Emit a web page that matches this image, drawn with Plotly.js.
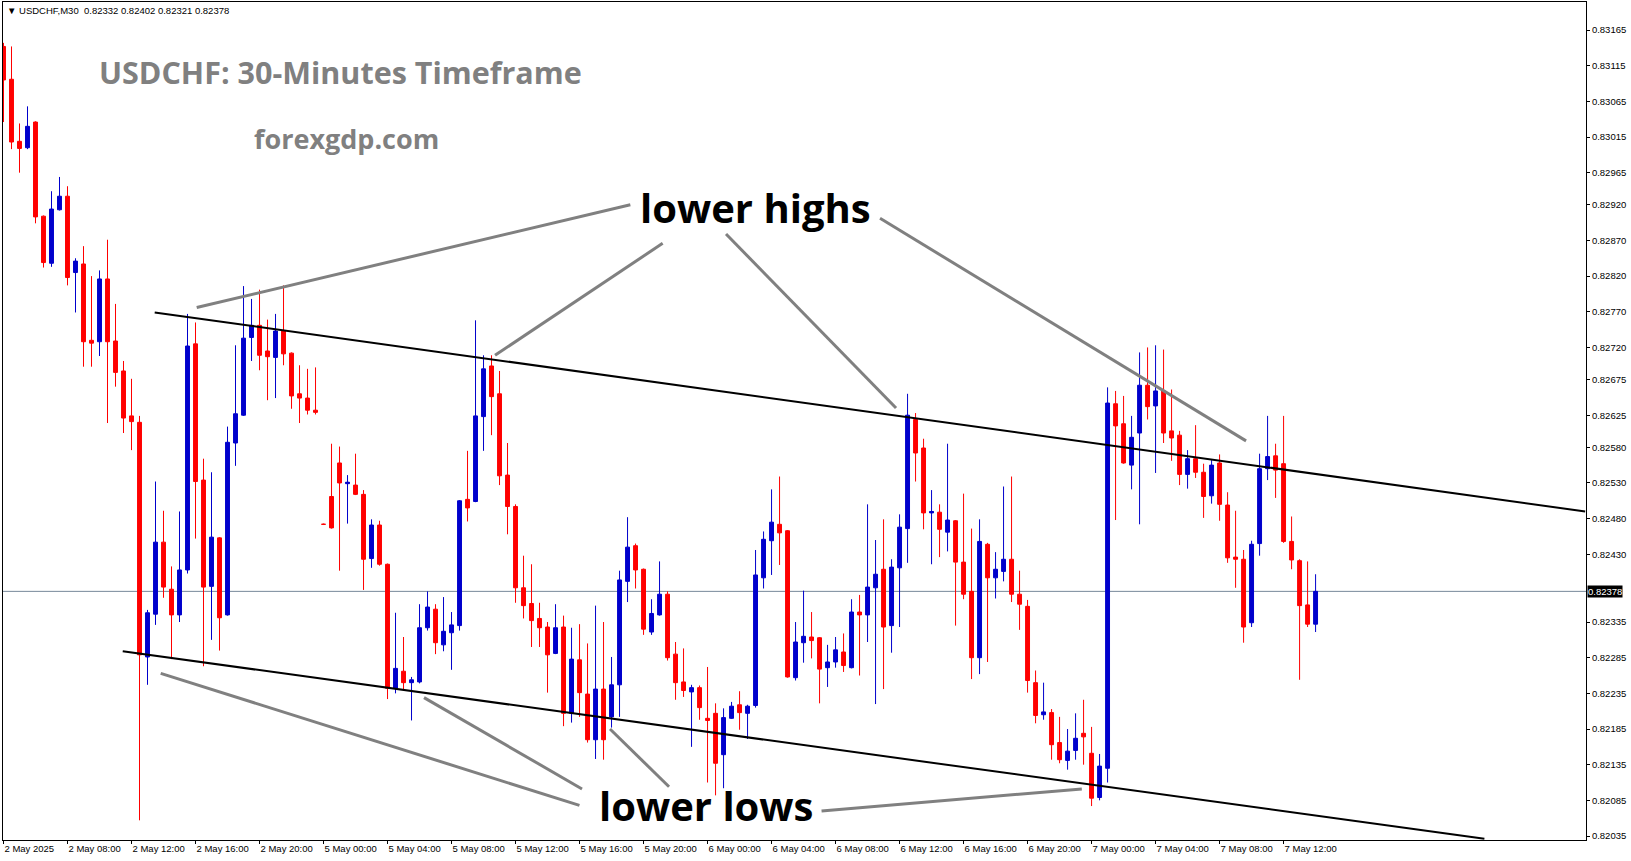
<!DOCTYPE html>
<html>
<head>
<meta charset="utf-8">
<script src="https://cdn.plot.ly/plotly-3.0.1.min.js"></script>
<style>html,body{margin:0;padding:0;background:#fff;}#chart{width:1631px;height:861px;}</style>
</head>
<body>
<div id="chart"></div>
<script>
// ---- data (USDCHF M30) ----
const symbol = "USDCHF,M30";
const titleText = "USDCHF: 30-Minutes Timeframe";
const siteText = "forexgdp.com";

const timeLabels = ["2 May 2025","2 May 08:00","2 May 12:00","2 May 16:00","2 May 20:00","5 May 00:00","5 May 04:00","5 May 08:00","5 May 12:00","5 May 16:00","5 May 20:00","6 May 00:00","6 May 04:00","6 May 08:00","6 May 12:00","6 May 16:00","6 May 20:00","7 May 00:00","7 May 04:00","7 May 08:00","7 May 12:00"];
const barsPerLabel = 8;

const priceLabels = ["0.83165","0.83115","0.83065","0.83015","0.82965","0.82920","0.82870","0.82820","0.82770","0.82720","0.82675","0.82625","0.82580","0.82530","0.82480","0.82430","0.82335","0.82285","0.82235","0.82185","0.82135","0.82085","0.82035"];

const open = [0.83142,0.83096,0.83009,0.83000,0.83036,0.82904,0.82838,0.82913,0.82932,0.82825,0.82837,0.82730,0.82728,0.82816,0.82729,0.82687,0.82624,0.82615,0.82286,0.82346,
0.82447,0.82381,0.82345,0.82408,0.82725,0.82534,0.82385,0.82453,0.82345,0.82586,0.82625,0.82734,0.82751,0.82715,0.82706,0.82743,0.82712,0.82655,0.82649,0.82632,
0.82472,0.82511,0.82558,0.82529,0.82527,0.82514,0.82424,0.82471,0.82416,0.82242,0.82266,0.82250,0.82251,0.82327,0.82353,0.82303,0.82320,0.82330,0.82507,0.82504,
0.82623,0.82694,0.82655,0.82541,0.82497,0.82383,0.82361,0.82340,0.82328,0.82291,0.82328,0.82207,0.82282,0.82234,0.82170,0.82241,0.82202,0.82247,0.82392,0.82442,
0.82409,0.82321,0.82345,0.82374,0.82290,0.82251,0.82237,0.82243,0.82200,0.82207,0.82149,0.82200,0.82219,0.82207,0.82218,0.82397,0.82449,0.82472,0.82463,0.82257,
0.82306,0.82314,0.82313,0.82271,0.82279,0.82293,0.82271,0.82349,0.82345,0.82383,0.82409,0.82330,0.82411,0.82466,0.82619,0.82579,0.82488,0.82489,0.82461,0.82477,
0.82419,0.82378,0.82285,0.82444,0.82397,0.82406,0.82423,0.82374,0.82357,0.82250,0.82205,0.82208,0.82166,0.82141,0.82155,0.82179,0.82151,0.82089,0.82130,0.82641,
0.82613,0.82555,0.82600,0.82667,0.82638,0.82659,0.82603,0.82597,0.82542,0.82564,0.82545,0.82512,0.82558,0.82499,0.82426,0.82423,0.82334,0.82445,0.82550,0.82568,
0.82557,0.82448,0.82421,0.82359,0.82332];
const high = [0.83147,0.83142,0.83034,0.83058,0.83037,0.82905,0.82939,0.82959,0.82946,0.82845,0.82862,0.82820,0.82828,0.82871,0.82781,0.82701,0.82676,0.82624,0.82352,0.82532,
0.82491,0.82413,0.82490,0.82767,0.82755,0.82564,0.82545,0.82454,0.82609,0.82723,0.82806,0.82788,0.82801,0.82759,0.82767,0.82807,0.82713,0.82695,0.82690,0.82692,
0.82473,0.82585,0.82581,0.82541,0.82571,0.82520,0.82479,0.82477,0.82417,0.82348,0.82314,0.82258,0.82360,0.82378,0.82360,0.82370,0.82349,0.82506,0.82575,0.82758,
0.82709,0.82709,0.82687,0.82586,0.82500,0.82428,0.82416,0.82362,0.82335,0.82360,0.82344,0.82327,0.82332,0.82305,0.82358,0.82335,0.82286,0.82407,0.82482,0.82445,
0.82410,0.82367,0.82420,0.82378,0.82307,0.82298,0.82247,0.82246,0.82272,0.82221,0.82214,0.82223,0.82238,0.82219,0.82436,0.82462,0.82521,0.82539,0.82464,0.82335,
0.82379,0.82349,0.82314,0.82303,0.82314,0.82319,0.82367,0.82373,0.82500,0.82450,0.82479,0.82423,0.82486,0.82655,0.82628,0.82592,0.82520,0.82500,0.82585,0.82478,
0.82515,0.82466,0.82479,0.82446,0.82433,0.82525,0.82539,0.82407,0.82366,0.82267,0.82250,0.82213,0.82202,0.82185,0.82207,0.82226,0.82188,0.82150,0.82664,0.82659,
0.82652,0.82624,0.82713,0.82720,0.82723,0.82717,0.82661,0.82603,0.82576,0.82611,0.82557,0.82562,0.82570,0.82517,0.82491,0.82436,0.82449,0.82571,0.82624,0.82585,
0.82624,0.82483,0.82423,0.82420,0.82402];
const low = [0.83036,0.82998,0.82965,0.82998,0.82894,0.82832,0.82833,0.82912,0.82807,0.82769,0.82693,0.82693,0.82708,0.82614,0.82665,0.82600,0.82576,0.82057,0.82247,0.82331,
0.82369,0.82283,0.82335,0.82403,0.82452,0.82273,0.82310,0.82295,0.82344,0.82554,0.82624,0.82701,0.82688,0.82646,0.82649,0.82695,0.82634,0.82614,0.82626,0.82626,
0.82471,0.82466,0.82407,0.82473,0.82513,0.82380,0.82411,0.82414,0.82227,0.82235,0.82240,0.82197,0.82249,0.82323,0.82290,0.82294,0.82268,0.82323,0.82476,0.82503,
0.82575,0.82597,0.82527,0.82458,0.82362,0.82340,0.82300,0.82300,0.82236,0.82290,0.82189,0.82194,0.82202,0.82166,0.82143,0.82142,0.82187,0.82202,0.82363,0.82382,
0.82317,0.82317,0.82344,0.82281,0.82226,0.82230,0.82160,0.82198,0.82110,0.82092,0.82102,0.82199,0.82184,0.82171,0.82215,0.82382,0.82401,0.82415,0.82257,0.82253,
0.82278,0.82284,0.82221,0.82244,0.82271,0.82265,0.82270,0.82260,0.82307,0.82220,0.82241,0.82292,0.82328,0.82418,0.82532,0.82465,0.82416,0.82426,0.82434,0.82330,
0.82367,0.82255,0.82262,0.82279,0.82368,0.82392,0.82363,0.82324,0.82236,0.82193,0.82198,0.82142,0.82137,0.82128,0.82142,0.82135,0.82077,0.82085,0.82110,0.82478,
0.82557,0.82521,0.82472,0.82619,0.82544,0.82586,0.82561,0.82527,0.82522,0.82537,0.82481,0.82501,0.82477,0.82418,0.82383,0.82306,0.82328,0.82428,0.82534,0.82509,
0.82446,0.82409,0.82254,0.82328,0.82321];
const close = [0.83095,0.83008,0.82999,0.83030,0.82903,0.82839,0.82914,0.82932,0.82818,0.82841,0.82728,0.82726,0.82816,0.82728,0.82685,0.82621,0.82616,0.82289,0.82348,0.82447,
0.82384,0.82345,0.82408,0.82722,0.82532,0.82384,0.82454,0.82341,0.82587,0.82627,0.82733,0.82751,0.82709,0.82707,0.82743,0.82711,0.82652,0.82649,0.82632,0.82629,
0.82472,0.82467,0.82530,0.82531,0.82514,0.82423,0.82471,0.82416,0.82242,0.82270,0.82250,0.82254,0.82327,0.82356,0.82306,0.82322,0.82331,0.82505,0.82495,0.82624,
0.82690,0.82651,0.82540,0.82497,0.82383,0.82358,0.82337,0.82327,0.82289,0.82327,0.82207,0.82283,0.82236,0.82170,0.82241,0.82170,0.82247,0.82394,0.82440,0.82408,
0.82325,0.82347,0.82374,0.82285,0.82250,0.82239,0.82243,0.82215,0.82197,0.82137,0.82201,0.82217,0.82208,0.82217,0.82401,0.82451,0.82475,0.82460,0.82258,0.82307,
0.82315,0.82309,0.82269,0.82279,0.82296,0.82274,0.82349,0.82345,0.82384,0.82402,0.82328,0.82412,0.82468,0.82625,0.82572,0.82488,0.82490,0.82465,0.82478,0.82419,
0.82374,0.82285,0.82448,0.82397,0.82409,0.82423,0.82374,0.82360,0.82253,0.82204,0.82209,0.82163,0.82142,0.82154,0.82172,0.82174,0.82088,0.82133,0.82642,0.82610,
0.82558,0.82594,0.82667,0.82637,0.82659,0.82600,0.82593,0.82542,0.82564,0.82545,0.82511,0.82555,0.82500,0.82425,0.82423,0.82328,0.82444,0.82550,0.82567,0.82548,
0.82448,0.82422,0.82358,0.82332,0.82378];

// channel lines drawn on the chart: [bar, price] pairs
const upperChannel = [[18.9, 0.82769], [197.7, 0.82490]];
const lowerChannel = [[14.9, 0.82294], [185.1, 0.82031]];
// grey pointer lines (lower highs / lower lows)
const pointerLines = [
  [[24.15, 0.82776], [78.35, 0.82920]],
  [[61.44, 0.82709], [82.39, 0.82866]],
  [[90.31, 0.82879], [111.56, 0.82635]],
  [[109.56, 0.82901], [155.31, 0.82589]],
  [[19.65, 0.82263], [71.99, 0.82078]],
  [[52.56, 0.82229], [72.31, 0.82101]],
  [[75.81, 0.82185], [83.19, 0.82104]],
  [[102.25, 0.82070], [134.78, 0.82101]]
];

// ---- build ----
const n = close.length;
const x = Array.from({length: n}, (_, i) => i);
const last = n - 1;
const bid = close[last];

const trace = {
  type: 'candlestick', x: x, open: open, high: high, low: low, close: close,
  increasing: {line: {color: '#0000cc', width: 1}, fillcolor: '#0000cc'},
  decreasing: {line: {color: '#ff0000', width: 1}, fillcolor: '#ff0000'},
  whiskerwidth: 0, hoverinfo: 'skip', showlegend: false
};

const shapes = [];
shapes.push({type: 'line', xref: 'paper', x0: 0, x1: 1, yref: 'y', y0: bid, y1: bid, line: {color: '#778899', width: 1}, layer: 'below'});
[upperChannel, lowerChannel].forEach(l => shapes.push({type: 'line', xref: 'x', yref: 'y', x0: l[0][0], y0: l[0][1], x1: l[1][0], y1: l[1][1], line: {color: '#000000', width: 2}}));
pointerLines.forEach(l => shapes.push({type: 'line', xref: 'x', yref: 'y', x0: l[0][0], y0: l[0][1], x1: l[1][0], y1: l[1][1], line: {color: '#808080', width: 3}}));

const f5 = v => v.toFixed(5);
const annotations = [
  {xref: 'paper', yref: 'paper', x: 0.0015, y: 0.9893, xanchor: 'left', yanchor: 'middle', showarrow: false,
   text: '\u25BC ' + symbol + '  ' + f5(open[last]) + ' ' + f5(high[last]) + ' ' + f5(low[last]) + ' ' + f5(close[last]),
   font: {family: 'Liberation Sans', size: 9.5, color: '#000'}},
  {xref: 'paper', yref: 'paper', x: 0.2135, y: 0.9165, xanchor: 'center', yanchor: 'middle', showarrow: false,
   text: '<b>' + titleText + '</b>', font: {family: 'Open Sans', size: 30.5, color: '#808080'}},
  {xref: 'paper', yref: 'paper', x: 0.2172, y: 0.8377, xanchor: 'center', yanchor: 'middle', showarrow: false,
   text: '<b>' + siteText + '</b>', font: {family: 'Open Sans', size: 27, color: '#808080'}},
  {xref: 'paper', yref: 'paper', x: 0.4754, y: 0.7542, xanchor: 'center', yanchor: 'middle', showarrow: false,
   text: '<b>lower highs</b>', font: {family: 'Open Sans', size: 40, color: '#000'}},
  {xref: 'paper', yref: 'paper', x: 0.4444, y: 0.0406, xanchor: 'center', yanchor: 'middle', showarrow: false,
   text: '<b>lower lows</b>', font: {family: 'Open Sans', size: 40, color: '#000'}},
  {xref: 'paper', yref: 'y', x: 1, y: bid, xanchor: 'left', yanchor: 'middle', xshift: 1, showarrow: false,
   text: f5(bid), bgcolor: '#000', borderpad: 0, font: {family: 'Liberation Sans', size: 9.5, color: '#fff'}}
];

const layout = {
  width: 1631, height: 861,
  margin: {l: 3, r: 45, t: 2, b: 21, pad: 0},
  paper_bgcolor: '#fff', plot_bgcolor: '#fff',
  showlegend: false,
  boxgap: 0.3, boxgroupgap: 0.3,
  xaxis: {
    type: 'linear', range: [-0.0625, 197.8], showgrid: false, zeroline: false,
    showline: true, mirror: true, linecolor: '#000', linewidth: 1,
    ticks: 'outside', ticklen: 3, tickcolor: '#000', tickwidth: 1,
    tickvals: timeLabels.map((_, k) => k * barsPerLabel), ticktext: timeLabels,
    ticklabelposition: 'outside right',
    tickfont: {family: 'Liberation Sans', size: 9.5, color: '#000'},
    rangeslider: {visible: false}, fixedrange: true
  },
  yaxis: {
    side: 'right', range: [0.820294, 0.832043], showgrid: false, zeroline: false,
    showline: true, mirror: true, linecolor: '#000', linewidth: 1,
    ticks: 'outside', ticklen: 3, tickcolor: '#000', tickwidth: 1,
    tickvals: priceLabels.map(Number), ticktext: priceLabels,
    tickfont: {family: 'Liberation Sans', size: 9.5, color: '#000'},
    fixedrange: true
  },
  shapes: shapes,
  annotations: annotations
};

Plotly.newPlot('chart', [trace], layout, {displayModeBar: false, staticPlot: true});
</script>
</body>
</html>
